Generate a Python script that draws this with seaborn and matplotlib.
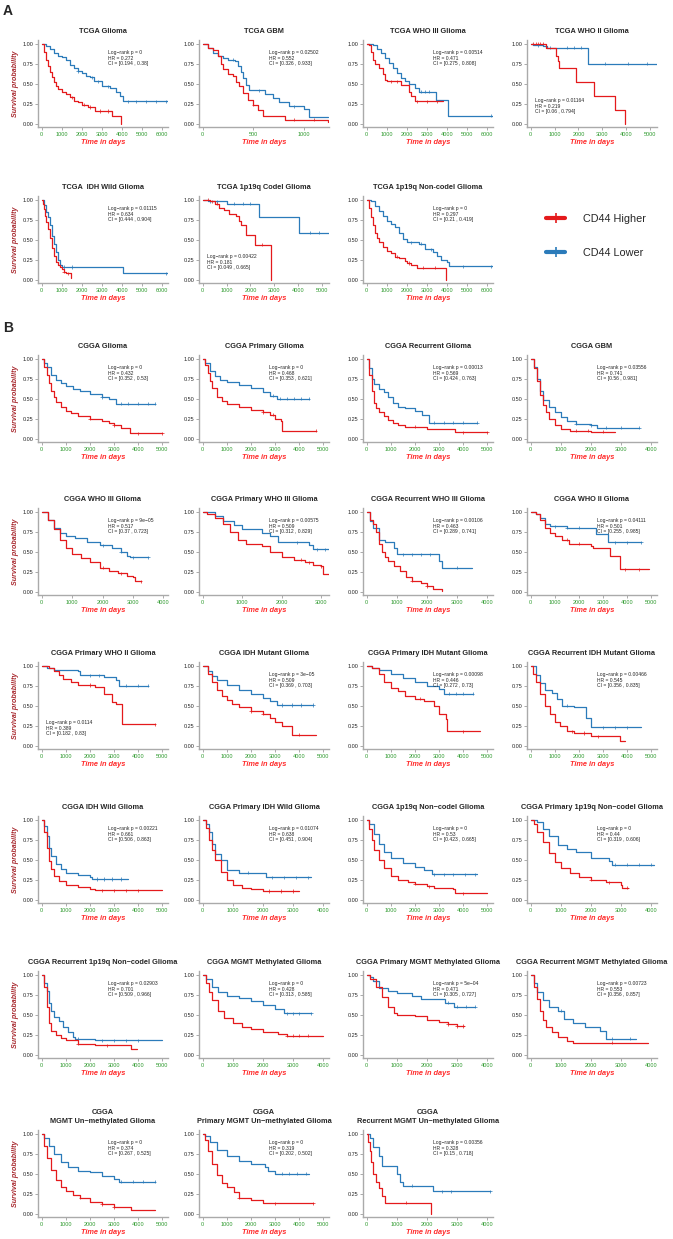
import numpy as np
import pandas as pd
import matplotlib
matplotlib.use("Agg")
import matplotlib.pyplot as plt
from matplotlib.lines import Line2D
import seaborn as sns

# --- Curve data: (time in days, survival probability after the step) ---
# hi = CD44 Higher, lo = CD44 Lower, *_c = censor times

# A: TCGA
tcga_glioma_hi = [(0, 1), (100, .9), (200, .8), (300, .72), (400, .65), (500, .58), (600, .52), (700, .47), (800, .44),
                  (1000, .4), (1200, .37), (1400, .33), (1600, .29), (1800, .27), (2000, .24), (2200, .23), (2300, .21),
                  (2650, .16), (3500, .1), (3950, 0)]
tcga_glioma_hi_c = [1500, 2100, 2400, 2900, 3300]
tcga_glioma_lo = [(0, 1), (200, .97), (400, .93), (600, .88), (800, .85), (1000, .83), (1200, .8), (1400, .74), (1600, .7),
                  (1800, .66), (2000, .63), (2200, .6), (2400, .58), (2600, .53), (3000, .47), (3400, .45), (3700, .4),
                  (3900, .35), (4050, .28), (6300, .28)]
tcga_glioma_lo_c = [1800, 2500, 2800, 3300, 4300, 4700, 5200, 5700, 6200]

tcga_gbm_hi = [(0, 1), (50, .95), (100, .92), (150, .85), (180, .75), (200, .68), (250, .62), (300, .6), (330, .52),
               (360, .47), (400, .38), (450, .3), (500, .24), (550, .17), (600, .1), (810, .05), (1240, .05), (1245, .02)]
tcga_gbm_hi_c = [500, 900, 1100]
tcga_gbm_lo = [(0, 1), (50, .95), (100, .88), (150, .85), (200, .82), (250, .8), (320, .78), (350, .72), (380, .65),
               (400, .57), (430, .48), (460, .42), (620, .37), (700, .32), (750, .27), (850, .22), (1000, .18),
               (1050, .08), (1245, .08)]
tcga_gbm_lo_c = [300, 560, 900]

tcga_who3_hi = [(0, 1), (100, .98), (200, .9), (300, .8), (400, .75), (600, .7), (800, .62), (900, .55), (1000, .53),
                (1700, .48), (2100, .4), (2200, .35), (2400, .28), (3800, .28)]
tcga_who3_hi_c = [1200, 1500, 2500, 3000, 3500]
tcga_who3_lo = [(0, 1), (300, .98), (500, .94), (700, .88), (900, .82), (1100, .76), (1300, .7), (1500, .63), (1700, .57),
                (1900, .53), (2100, .5), (2400, .45), (2600, .4), (3450, .3), (4050, .1), (6300, .1)]
tcga_who3_lo_c = [2700, 2900, 3100, 6200]

tcga_who2_hi = [(0, 1), (650, .95), (1050, .85), (1150, .78), (1200, .7), (1900, .52), (2650, .35), (3550, .17), (3950, 0)]
tcga_who2_hi_c = [100, 200, 300, 400, 500]
tcga_who2_lo = [(0, 1), (100, .98), (500, .97), (700, .95), (2400, .75), (5300, .75)]
tcga_who2_lo_c = [300, 800, 1500, 1800, 2100, 3100, 4100, 4900]

tcga_idhwt_hi = [(0, 1), (50, .95), (100, .88), (150, .8), (200, .72), (300, .63), (400, .52), (500, .4), (600, .3),
                 (700, .22), (800, .18), (900, .16), (1000, .14), (1100, .1), (1200, .08), (1450, .02)]
tcga_idhwt_hi_c = [1100, 1300]
tcga_idhwt_lo = [(0, 1), (100, .93), (200, .85), (300, .78), (400, .68), (500, .55), (600, .45), (700, .35), (800, .25),
                 (900, .18), (1000, .16), (4050, .08), (6300, .08)]
tcga_idhwt_lo_c = [1100, 1500, 6200]

tcga_codel_hi = [(0, 1), (300, .98), (500, .95), (700, .9), (900, .87), (1100, .82), (1400, .8), (1500, .74), (1600, .68),
                 (1800, .56), (2200, .44), (2850, 0)]
tcga_codel_hi_c = [200, 400, 600, 2500]
tcga_codel_lo = [(0, 1), (200, .98), (1000, .95), (2350, .78), (4050, .59), (5300, .59)]
tcga_codel_lo_c = [300, 600, 1300, 1700, 2000, 4500, 4900]

tcga_noncodel_hi = [(0, 1), (100, .9), (200, .78), (300, .68), (400, .58), (500, .52), (600, .47), (800, .41), (1000, .36),
                    (1200, .33), (1400, .29), (1600, .27), (1900, .24), (2000, .21), (2200, .18), (2500, .15), (3960, 0)]
tcga_noncodel_hi_c = [1500, 2100, 2800, 3400]
tcga_noncodel_lo = [(0, 1), (200, .98), (400, .92), (600, .86), (800, .8), (1000, .74), (1200, .7), (1400, .66),
                    (1600, .58), (1800, .51), (2000, .47), (2600, .45), (2900, .38), (3300, .35), (3500, .3),
                    (3700, .25), (4000, .22), (4100, .17), (6300, .17)]
tcga_noncodel_lo_c = [2200, 2700, 3200, 4800, 6200]

# B: CGGA
cgga_glioma_hi = [(0, 1), (100, .9), (200, .8), (300, .7), (400, .6), (500, .52), (600, .46), (800, .4), (1000, .35),
                  (1200, .32), (1500, .29), (2000, .25), (2500, .22), (2800, .2), (3000, .17), (3300, .14),
                  (3650, .07), (5000, .07)]
cgga_glioma_hi_c = [2000, 3000, 4000, 5000]
cgga_glioma_lo = [(0, 1), (100, .95), (200, .9), (400, .8), (600, .74), (800, .7), (1000, .66), (1300, .62),
                  (1600, .6), (2000, .56), (2500, .52), (2800, .5), (3100, .44), (4700, .44)]
cgga_glioma_lo_c = [2500, 3300, 3600, 4000, 4400, 4700]

cgga_prim_hi = [(0, 1), (100, .92), (200, .82), (300, .72), (400, .63), (600, .52), (800, .47), (1000, .43),
                (1500, .4), (2000, .36), (2500, .33), (2800, .3), (3000, .25), (3250, .22), (3300, .1), (4700, .1)]
cgga_prim_hi_c = [2500, 2900, 4700]
cgga_prim_lo = [(0, 1), (100, .95), (300, .85), (500, .78), (700, .74), (1000, .71), (1500, .67), (2000, .63),
                (2500, .59), (2800, .54), (3100, .5), (4400, .5)]
cgga_prim_lo_c = [2900, 3200, 3500, 3800, 4100, 4400]

cgga_rec_hi = [(0, 1), (100, .8), (200, .6), (300, .45), (400, .38), (500, .33), (700, .28), (900, .24), (1100, .2),
               (1300, .17), (1600, .15), (2500, .12), (3650, .08), (5000, .08)]
cgga_rec_hi_c = [2000, 4000, 5000]
cgga_rec_lo = [(0, 1), (100, .88), (200, .75), (300, .68), (500, .62), (700, .58), (900, .52), (1100, .45),
               (1300, .4), (1600, .38), (2000, .35), (2300, .3), (2600, .2), (4600, .2)]
cgga_rec_lo_c = [2800, 3200, 3600, 4000, 4600]

cgga_gbm_hi = [(0, 1), (100, .88), (200, .72), (300, .55), (400, .42), (500, .33), (600, .25), (800, .17),
               (1000, .12), (1300, .1), (2000, .09), (2800, .09)]
cgga_gbm_hi_c = [1500, 1900, 2400]
cgga_gbm_lo = [(0, 1), (100, .9), (200, .75), (300, .6), (400, .48), (600, .4), (800, .33), (1000, .27),
               (1200, .22), (1500, .19), (2000, .17), (2200, .14), (3600, .14)]
cgga_gbm_lo_c = [1500, 2000, 2500, 3000, 3600]

cgga_who3_hi = [(0, 1), (200, .9), (400, .78), (600, .65), (800, .55), (1000, .47), (1300, .42), (1600, .37),
                (1900, .3), (2200, .26), (2500, .23), (2800, .2), (3000, .18), (3050, .13), (3250, .13)]
cgga_who3_hi_c = [2000, 2600, 3250]
cgga_who3_lo = [(0, 1), (200, .9), (400, .8), (600, .73), (800, .7), (1100, .67), (1500, .62), (1900, .58),
                (2300, .55), (2600, .5), (2800, .45), (2900, .43), (3500, .43)]
cgga_who3_lo_c = [2000, 2600, 3000, 3500]

cgga_prim_who3_hi = [(0, 1), (100, .97), (300, .92), (500, .85), (700, .75), (900, .65), (1100, .6), (1500, .57),
                     (1700, .5), (2000, .43), (2300, .4), (2600, .37), (2800, .34), (3000, .32), (3050, .22), (3200, .22)]
cgga_prim_who3_hi_c = [2500, 2700, 3000]
cgga_prim_who3_lo = [(0, 1), (300, .95), (500, .88), (800, .83), (1000, .79), (1500, .73), (1700, .7), (1900, .62),
                     (2700, .58), (2800, .53), (3200, .53)]
cgga_prim_who3_lo_c = [2400, 2900, 3100]

cgga_rec_who3_hi = [(0, 1), (100, .9), (200, .85), (300, .75), (400, .6), (500, .5), (600, .44), (700, .38),
                    (900, .32), (1100, .26), (1300, .18), (1500, .14), (1800, .11), (2000, .07), (2200, .04), (2500, .01)]
cgga_rec_who3_hi_c = [1500, 2000]
cgga_rec_who3_lo = [(0, 1), (100, .88), (200, .8), (400, .65), (600, .62), (900, .55), (1000, .47), (2400, .38),
                    (2500, .3), (3500, .3)]
cgga_rec_who3_lo_c = [1200, 1500, 1800, 2100, 3000]

cgga_who2_hi = [(0, 1), (200, .97), (400, .9), (600, .8), (800, .73), (1000, .7), (1300, .65), (1600, .6),
                (2500, .57), (2600, .55), (3300, .45), (3700, .28), (4900, .28)]
cgga_who2_hi_c = [1500, 2000, 3900, 4500]
cgga_who2_lo = [(0, 1), (200, .97), (400, .92), (600, .85), (800, .82), (1500, .8), (2700, .72), (3200, .62), (4600, .62)]
cgga_who2_lo_c = [1000, 1500, 2000, 3500, 4000, 4600]

cgga_prim_who2_hi = [(0, 1), (300, .97), (500, .93), (700, .88), (900, .84), (1200, .8), (1500, .76), (2200, .74),
                     (2600, .65), (2900, .55), (3100, .52), (3350, .27), (4700, .27)]
cgga_prim_who2_hi_c = [2000, 4700]
cgga_prim_who2_lo = [(0, 1), (200, .97), (500, .95), (1500, .93), (1600, .88), (2600, .86), (3100, .82), (3200, .75),
                     (4400, .75)]
cgga_prim_who2_lo_c = [2000, 2400, 3500, 4000, 4400]

cgga_idhmut_hi = [(0, 1), (200, .9), (400, .8), (600, .7), (800, .62), (1000, .57), (1200, .52), (1500, .48),
                  (2000, .43), (2500, .4), (2800, .35), (3000, .3), (3300, .25), (3700, .14), (4700, .14)]
cgga_idhmut_hi_c = [2000, 2500, 4000]
cgga_idhmut_lo = [(0, 1), (200, .93), (400, .87), (600, .82), (1000, .76), (1500, .7), (2000, .65), (2500, .6),
                  (2800, .56), (3100, .51), (4600, .51)]
cgga_idhmut_lo_c = [3300, 3700, 4100, 4600]

cgga_prim_idhmut_hi = [(0, 1), (200, .97), (500, .9), (700, .8), (1000, .72), (1300, .68), (1600, .62), (2000, .59),
                       (2400, .56), (2800, .5), (3000, .4), (3300, .33), (3350, .18), (4700, .18)]
cgga_prim_idhmut_hi_c = [2200, 4000]
cgga_prim_idhmut_lo = [(0, 1), (200, .97), (500, .95), (1000, .9), (1500, .85), (2000, .8), (2500, .75), (3000, .71),
                       (3200, .65), (4400, .65)]
cgga_prim_idhmut_lo_c = [3400, 3700, 4000, 4400]

cgga_rec_idhmut_hi = [(0, 1), (100, .9), (200, .8), (400, .65), (600, .5), (800, .4), (1000, .3), (1200, .25),
                      (1500, .18), (1800, .16), (2500, .12), (3700, .06), (3900, .06)]
cgga_rec_idhmut_hi_c = [1700, 2200, 2800]
cgga_rec_idhmut_lo = [(0, 1), (200, .88), (400, .78), (600, .7), (900, .66), (1100, .58), (1300, .5), (1800, .48),
                      (2300, .35), (2500, .23), (4600, .23)]
cgga_rec_idhmut_lo_c = [1500, 3000, 3500, 4000]

cgga_idhwt_hi = [(0, 1), (100, .85), (200, .65), (300, .48), (400, .38), (500, .3), (700, .23), (1000, .18),
                 (1500, .16), (2000, .14), (2200, .12), (5000, .12)]
cgga_idhwt_hi_c = [2500, 3000, 3500, 4000]
cgga_idhwt_lo = [(0, 1), (100, .92), (200, .8), (300, .65), (400, .55), (600, .45), (800, .38), (1000, .33),
                 (1500, .31), (2000, .29), (2100, .26), (3600, .26)]
cgga_idhwt_lo_c = [2300, 2600, 2900, 3300]

cgga_prim_idhwt_hi = [(0, 1), (100, .9), (200, .75), (300, .62), (400, .5), (600, .35), (800, .25), (1000, .18),
                      (1300, .15), (1600, .13), (2000, .11), (3200, .11)]
cgga_prim_idhwt_hi_c = [2200, 2600, 3000]
cgga_prim_idhwt_lo = [(0, 1), (100, .95), (200, .85), (300, .7), (400, .57), (600, .5), (800, .37), (1200, .34),
                      (2000, .33), (2100, .28), (3600, .28)]
cgga_prim_idhwt_lo_c = [1500, 2300, 2700, 3100, 3500]

cgga_noncodel_hi = [(0, 1), (100, .88), (200, .75), (300, .62), (500, .5), (700, .4), (1000, .3), (1300, .25),
                    (1700, .22), (2000, .2), (2500, .17), (2800, .15), (3600, .13), (3650, .08), (5000, .08)]
cgga_noncodel_hi_c = [2000, 2600, 4000]
cgga_noncodel_lo = [(0, 1), (100, .95), (300, .82), (500, .7), (700, .6), (1000, .52), (1500, .46), (2000, .41),
                    (2400, .37), (2700, .32), (4600, .32)]
cgga_noncodel_lo_c = [2800, 3200, 3600, 4100, 4500]

cgga_prim_noncodel_hi = [(0, 1), (100, .95), (200, .85), (400, .72), (600, .58), (800, .47), (1000, .4), (1300, .33),
                         (1600, .29), (2000, .25), (2500, .22), (3000, .18), (3050, .15), (3250, .15)]
cgga_prim_noncodel_hi_c = [2000, 2600, 3200]
cgga_prim_noncodel_lo = [(0, 1), (200, .97), (400, .88), (600, .8), (900, .68), (1200, .64), (1500, .6), (2000, .52),
                         (2600, .49), (2700, .44), (4100, .44)]
cgga_prim_noncodel_lo_c = [2800, 3200, 3600, 4000]

cgga_rec_noncodel_hi = [(0, 1), (100, .85), (200, .6), (300, .4), (400, .3), (600, .25), (800, .21), (1000, .19),
                        (1500, .14), (2200, .12), (3700, .07), (3950, .07)]
cgga_rec_noncodel_hi_c = [1500, 2700]
cgga_rec_noncodel_lo = [(0, 1), (100, .9), (200, .8), (300, .65), (400, .55), (500, .47), (700, .42), (900, .35),
                        (1100, .28), (1300, .22), (1400, .2), (2200, .18), (5000, .18)]
cgga_rec_noncodel_lo_c = [1500, 2500, 3000, 3500, 4000]

cgga_mgmt_hi = [(0, 1), (100, .9), (200, .78), (300, .68), (500, .55), (700, .46), (1000, .4), (1300, .35),
                (1600, .32), (2000, .29), (2500, .26), (2800, .24), (4000, .24)]
cgga_mgmt_hi_c = [2800, 3000, 3200, 3500]
cgga_mgmt_lo = [(0, 1), (100, .95), (300, .85), (500, .78), (800, .74), (1200, .71), (1600, .67), (2000, .62),
                (2400, .57), (2700, .52), (3600, .52)]
cgga_mgmt_lo_c = [2800, 3000, 3200, 3600]

cgga_prim_mgmt_hi = [(0, 1), (100, .95), (300, .85), (500, .72), (700, .6), (900, .52), (1000, .5), (1600, .48),
                     (2000, .44), (2400, .41), (2700, .38), (3000, .36), (3250, .36)]
cgga_prim_mgmt_hi_c = [2700, 3000, 3200]
cgga_prim_mgmt_lo = [(0, 1), (100, .97), (200, .92), (400, .84), (700, .8), (1000, .77), (1500, .74), (1800, .7),
                     (2600, .65), (2900, .6), (3600, .6)]
cgga_prim_mgmt_lo_c = [2700, 3000, 3300, 3600]

cgga_rec_mgmt_hi = [(0, 1), (100, .85), (200, .7), (300, .55), (400, .43), (500, .35), (700, .28), (900, .22),
                    (1200, .17), (1400, .15), (3900, .15)]
cgga_rec_mgmt_hi_c = [2700]
cgga_rec_mgmt_lo = [(0, 1), (100, .9), (200, .78), (400, .68), (600, .6), (900, .55), (1100, .45), (1400, .4),
                    (1800, .35), (2300, .3), (2500, .2), (3500, .2)]
cgga_rec_mgmt_lo_c = [1000, 2700, 3300]

cgga_unmeth_hi = [(0, 1), (100, .85), (200, .7), (400, .55), (600, .42), (800, .33), (1000, .28), (1300, .24),
                  (1600, .2), (2000, .15), (2500, .12), (3000, .08), (3700, .05), (4700, .05)]
cgga_unmeth_hi_c = [1600, 2500, 3000]
cgga_unmeth_lo = [(0, 1), (100, .95), (300, .85), (500, .75), (800, .65), (1100, .58), (1500, .54), (2000, .52),
                  (2500, .47), (3000, .43), (3200, .4), (4700, .4)]
cgga_unmeth_lo_c = [3300, 3800, 4200, 4700]

cgga_prim_unmeth_hi = [(0, 1), (100, .92), (200, .78), (400, .62), (600, .48), (800, .38), (1000, .33), (1300, .27),
                       (1500, .2), (2000, .17), (2500, .13), (4600, .13)]
cgga_prim_unmeth_hi_c = [1500, 3000, 4600]
cgga_prim_unmeth_lo = [(0, 1), (100, .97), (300, .9), (600, .8), (1000, .72), (1500, .66), (2000, .62), (2600, .58),
                       (2700, .53), (3000, .5), (4400, .5)]
cgga_prim_unmeth_lo_c = [3300, 3600, 3900, 4300]

cgga_rec_unmeth_hi = [(0, 1), (50, .9), (100, .78), (150, .65), (200, .5), (300, .4), (400, .32), (500, .22),
                      (600, .14), (2150, 0)]
cgga_rec_unmeth_hi_c = [1300]
cgga_rec_unmeth_lo = [(0, 1), (100, .95), (200, .83), (400, .72), (500, .6), (1000, .5), (1100, .4), (1200, .35),
                      (2200, .28), (4100, .28)]
cgga_rec_unmeth_lo_c = [1500, 2500, 2800, 4100]

# --- Panel titles, stats (p, HR, CI low, CI high), x-axis max ---
titles = [
    "TCGA Glioma", "TCGA GBM", "TCGA WHO III Glioma", "TCGA WHO II Glioma",
    "TCGA  IDH Wild Glioma", "TCGA 1p19q Codel Glioma", "TCGA 1p19q Non-codel Glioma",
    "CGGA Glioma", "CGGA Primary Glioma", "CGGA Recurrent Glioma", "CGGA GBM",
    "CGGA WHO III Glioma", "CGGA Primary WHO III Glioma", "CGGA Recurrent WHO III Glioma", "CGGA WHO II Glioma",
    "CGGA Primary WHO II Glioma", "CGGA IDH Mutant Glioma", "CGGA Primary IDH Mutant Glioma",
    "CGGA Recurrent IDH Mutant Glioma",
    "CGGA IDH Wild Glioma", "CGGA Primary IDH Wild Glioma", "CGGA 1p19q Non\u2212codel Glioma",
    "CGGA Primary 1p19q Non\u2212codel Glioma",
    "CGGA Recurrent 1p19q Non\u2212codel Glioma", "CGGA MGMT Methylated Glioma", "CGGA Primary MGMT Methylated Glioma",
    "CGGA Recurrent MGMT Methylated Glioma",
    "CGGA\nMGMT Un\u2212methylated Glioma", "CGGA\nPrimary MGMT Un\u2212methylated Glioma",
    "CGGA\nRecurrent MGMT Un\u2212methylated Glioma",
]
pvals = ["0", "0.02502", "0.00514", "0.01164", "0.01115", "0.00422", "0",
         "0", "0", "0.00013", "0.03556", "9e\u221205", "0.00575", "0.00106", "0.04111",
         "0.0114", "3e\u221205", "0.00098", "0.00466", "0.00221", "0.01074", "0", "0",
         "0.02903", "0", "5e\u221204", "0.00723", "0", "0", "0.00356"]
hrs = ["0.272", "0.552", "0.471", "0.219", "0.634", "0.181", "0.297",
       "0.432", "0.468", "0.569", "0.741", "0.517", "0.509", "0.463", "0.501",
       "0.389", "0.509", "0.446", "0.545", "0.661", "0.638", "0.53", "0.44",
       "0.701", "0.428", "0.471", "0.553", "0.374", "0.319", "0.328"]
ci_low = ["0.194", "0.326", "0.275", "0.06", "0.444", "0.049", "0.21",
          "0.352", "0.353", "0.424", "0.56", "0.37", "0.312", "0.289", "0.255",
          "0.182", "0.369", "0.272", "0.356", "0.506", "0.451", "0.423", "0.319",
          "0.509", "0.313", "0.305", "0.356", "0.267", "0.202", "0.15"]
ci_high = ["0.38", "0.933", "0.808", "0.794", "0.904", "0.665", "0.419",
           "0.53", "0.621", "0.763", "0.981", "0.723", "0.829", "0.741", "0.985",
           "0.83", "0.703", "0.73", "0.835", "0.863", "0.904", "0.665", "0.606",
           "0.966", "0.585", "0.727", "0.857", "0.525", "0.502", "0.718"]
xmaxes = [6300, 1250, 6300, 5300, 6300, 5300, 6300,
          5250, 5250, 5250, 4200, 4150, 3200, 4200, 5250,
          5250, 5250, 5250, 5250, 5250, 4200, 5250, 4200,
          5250, 4200, 4200, 4200, 5250, 5250, 4200]
stats_bottom = {3, 5, 15}   # panels whose stats text sits bottom-left

curves = [
    (tcga_glioma_hi, tcga_glioma_hi_c, tcga_glioma_lo, tcga_glioma_lo_c),
    (tcga_gbm_hi, tcga_gbm_hi_c, tcga_gbm_lo, tcga_gbm_lo_c),
    (tcga_who3_hi, tcga_who3_hi_c, tcga_who3_lo, tcga_who3_lo_c),
    (tcga_who2_hi, tcga_who2_hi_c, tcga_who2_lo, tcga_who2_lo_c),
    (tcga_idhwt_hi, tcga_idhwt_hi_c, tcga_idhwt_lo, tcga_idhwt_lo_c),
    (tcga_codel_hi, tcga_codel_hi_c, tcga_codel_lo, tcga_codel_lo_c),
    (tcga_noncodel_hi, tcga_noncodel_hi_c, tcga_noncodel_lo, tcga_noncodel_lo_c),
    (cgga_glioma_hi, cgga_glioma_hi_c, cgga_glioma_lo, cgga_glioma_lo_c),
    (cgga_prim_hi, cgga_prim_hi_c, cgga_prim_lo, cgga_prim_lo_c),
    (cgga_rec_hi, cgga_rec_hi_c, cgga_rec_lo, cgga_rec_lo_c),
    (cgga_gbm_hi, cgga_gbm_hi_c, cgga_gbm_lo, cgga_gbm_lo_c),
    (cgga_who3_hi, cgga_who3_hi_c, cgga_who3_lo, cgga_who3_lo_c),
    (cgga_prim_who3_hi, cgga_prim_who3_hi_c, cgga_prim_who3_lo, cgga_prim_who3_lo_c),
    (cgga_rec_who3_hi, cgga_rec_who3_hi_c, cgga_rec_who3_lo, cgga_rec_who3_lo_c),
    (cgga_who2_hi, cgga_who2_hi_c, cgga_who2_lo, cgga_who2_lo_c),
    (cgga_prim_who2_hi, cgga_prim_who2_hi_c, cgga_prim_who2_lo, cgga_prim_who2_lo_c),
    (cgga_idhmut_hi, cgga_idhmut_hi_c, cgga_idhmut_lo, cgga_idhmut_lo_c),
    (cgga_prim_idhmut_hi, cgga_prim_idhmut_hi_c, cgga_prim_idhmut_lo, cgga_prim_idhmut_lo_c),
    (cgga_rec_idhmut_hi, cgga_rec_idhmut_hi_c, cgga_rec_idhmut_lo, cgga_rec_idhmut_lo_c),
    (cgga_idhwt_hi, cgga_idhwt_hi_c, cgga_idhwt_lo, cgga_idhwt_lo_c),
    (cgga_prim_idhwt_hi, cgga_prim_idhwt_hi_c, cgga_prim_idhwt_lo, cgga_prim_idhwt_lo_c),
    (cgga_noncodel_hi, cgga_noncodel_hi_c, cgga_noncodel_lo, cgga_noncodel_lo_c),
    (cgga_prim_noncodel_hi, cgga_prim_noncodel_hi_c, cgga_prim_noncodel_lo, cgga_prim_noncodel_lo_c),
    (cgga_rec_noncodel_hi, cgga_rec_noncodel_hi_c, cgga_rec_noncodel_lo, cgga_rec_noncodel_lo_c),
    (cgga_mgmt_hi, cgga_mgmt_hi_c, cgga_mgmt_lo, cgga_mgmt_lo_c),
    (cgga_prim_mgmt_hi, cgga_prim_mgmt_hi_c, cgga_prim_mgmt_lo, cgga_prim_mgmt_lo_c),
    (cgga_rec_mgmt_hi, cgga_rec_mgmt_hi_c, cgga_rec_mgmt_lo, cgga_rec_mgmt_lo_c),
    (cgga_unmeth_hi, cgga_unmeth_hi_c, cgga_unmeth_lo, cgga_unmeth_lo_c),
    (cgga_prim_unmeth_hi, cgga_prim_unmeth_hi_c, cgga_prim_unmeth_lo, cgga_prim_unmeth_lo_c),
    (cgga_rec_unmeth_hi, cgga_rec_unmeth_hi_c, cgga_rec_unmeth_lo, cgga_rec_unmeth_lo_c),
]

# --- Layout (pixels) ---
W, H = 673, 1239
row_y1 = [43, 199, 358, 511, 665, 819, 974, 1133]   # pixel row of the 1.00 tick
col_x = [38, 199, 363, 527]                         # pixel column of the y spine
row_sizes = [4, 3, 4, 4, 4, 4, 4, 3]

RED = '#E41A1C'
BLUE = '#2B7BBA'
palette = {'CD44 Higher': RED, 'CD44 Lower': BLUE}

sns.set_style("ticks")
plt.rcParams['font.family'] = ['Liberation Sans', 'DejaVu Sans']

fig = plt.figure(figsize=(W / 100, H / 100), dpi=100)


def step_at(curve, times):
    t = np.array([p[0] for p in curve])
    s = np.array([p[1] for p in curve], dtype=float)
    idx = np.searchsorted(t, np.asarray(times), side='right') - 1
    return s[np.clip(idx, 0, len(s) - 1)]


unit = 80
k = 0
for r, n in enumerate(row_sizes):
    for c in range(n):
        hi, hi_c, lo, lo_c = curves[k]
        xmax = xmaxes[k]
        top = row_y1[r] - 0.04 * unit
        h = 1.09 * unit
        ax = fig.add_axes([col_x[c] / W, 1 - (top + h) / H, 130 / W, h / H])

        # lower group first so the red curve sits on top
        lines = pd.concat([
            pd.DataFrame(lo, columns=['time', 'surv']).assign(group='CD44 Lower'),
            pd.DataFrame(hi, columns=['time', 'surv']).assign(group='CD44 Higher'),
        ], ignore_index=True)
        sns.lineplot(data=lines, x='time', y='surv', hue='group', palette=palette,
                     hue_order=['CD44 Lower', 'CD44 Higher'],
                     drawstyle='steps-post', estimator=None, sort=False, legend=False,
                     lw=0.9, ax=ax)
        cens = pd.concat([
            pd.DataFrame({'time': lo_c, 'surv': step_at(lo, lo_c), 'group': 'CD44 Lower'}),
            pd.DataFrame({'time': hi_c, 'surv': step_at(hi, hi_c), 'group': 'CD44 Higher'}),
        ], ignore_index=True)
        sns.scatterplot(data=cens, x='time', y='surv', hue='group', palette=palette,
                        marker='+', s=5, linewidth=0.5, legend=False, ax=ax)

        ax.set_xlim(-0.03 * xmax, xmax)
        ax.set_ylim(-0.04, 1.05)
        ax.set_yticks([0, 0.25, 0.5, 0.75, 1.0])
        ax.set_yticklabels(['0.00', '0.25', '0.50', '0.75', '1.00'])
        step = 500 if xmax < 2000 else 1000
        ax.set_xticks(np.arange(0, xmax + 1, step))
        ax.tick_params(labelsize=4, length=2, width=0.5, color='#888888', pad=1.5)
        ax.tick_params(axis='x', labelcolor='#2E9A2E')
        sns.despine(ax=ax)
        for sp in ('left', 'bottom'):
            ax.spines[sp].set_color('#AAAAAA')
            ax.spines[sp].set_linewidth(1.0)

        ax.set_xlabel('Time in days', color='#FF2B2B', fontsize=5.3,
                      fontweight='bold', style='italic', labelpad=1.5)
        if c == 0:
            ax.set_ylabel('Survival probability', color='#A8282E', fontsize=5.1,
                          fontweight='bold', style='italic', labelpad=2)
        else:
            ax.set_ylabel('')
        ax.set_title(titles[k], fontsize=5.3, fontweight='bold', pad=5, linespacing=1.3)

        txt = f"Log\u2212rank p = {pvals[k]}\nHR = {hrs[k]}\nCI = [{ci_low[k]} , {ci_high[k]}]"
        if k in stats_bottom:
            ax.text(0.06, 0.33, txt, transform=ax.transAxes, fontsize=3.6, va='top', linespacing=1.15)
        else:
            ax.text(0.54, 0.88, txt, transform=ax.transAxes, fontsize=3.6, va='top', linespacing=1.15)
        k += 1

# --- Legend and panel letters ---
handles = [Line2D([0], [0], color=RED, lw=3, marker='|', ms=7, mew=1.2),
           Line2D([0], [0], color=BLUE, lw=3, marker='|', ms=7, mew=1.2)]
fig.legend(handles, ['CD44 Higher', 'CD44 Lower'], loc='center left',
           bbox_to_anchor=(536 / W, 1 - 236 / H), frameon=False, fontsize=7.8,
           labelspacing=2.2, handlelength=1.8, handletextpad=1.6)

fig.text(3 / W, 1 - 11 / H, 'A', fontsize=10, fontweight='bold', va='center')
fig.text(3 / W, 1 - 328 / H, 'B', fontsize=10, fontweight='bold', va='center')

fig.savefig('out.png', dpi=100)
